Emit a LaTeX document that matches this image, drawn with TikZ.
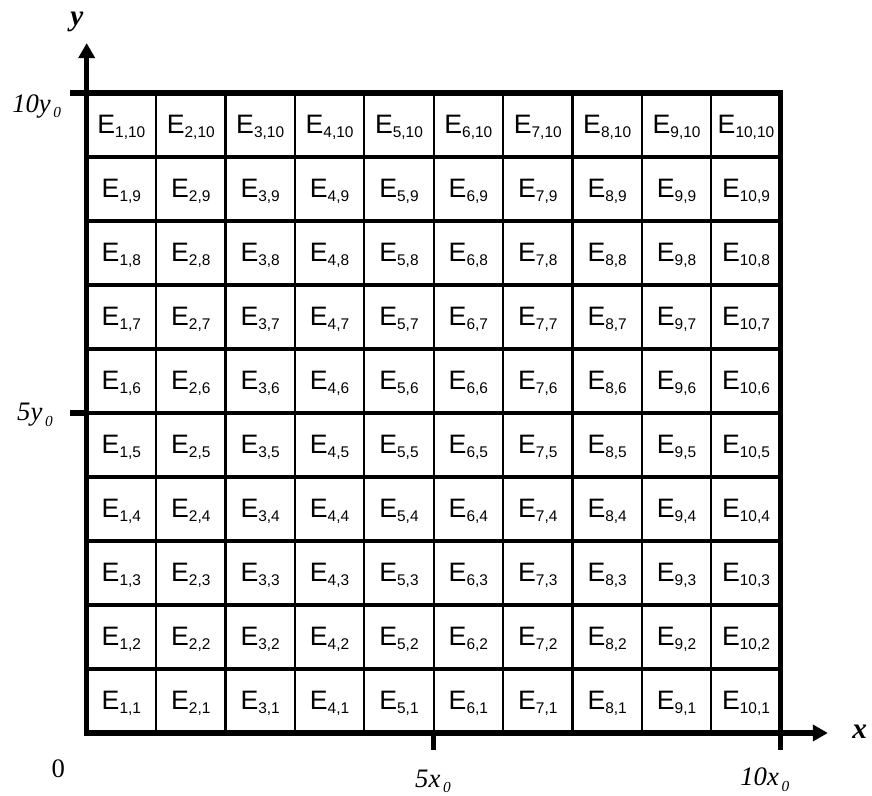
\documentclass[tikz,border=0pt]{standalone}
\usepackage{fontspec}
\setmainfont{Liberation Serif}
\newfontfamily\arialfont{Liberation Sans}
\usepackage{tikz}
\usetikzlibrary{arrows.meta}

\newcommand{\esub}[1]{\raisebox{-3.2pt}{\fontsize{11.6}{12}\selectfont #1}}
\newcommand{\ticksub}[1]{\kern2pt\raisebox{-3.8pt}{\fontsize{11.5}{12}\selectfont #1}}

\begin{document}
\begin{tikzpicture}[x=52.05pt,y=48pt,
  thin col/.style={line width=1.7pt},
  thin row/.style={line width=2.4pt},
  frame/.style={line width=4.2pt},
  axis tip/.style={-{Triangle[length=11.3pt,width=12pt]}},
  cell/.style={inner sep=0pt,yshift=-1.5pt,font=\arialfont\fontsize{20}{24}\selectfont},
  axis label/.style={inner sep=0pt,font=\fontsize{22}{24}\selectfont\bfseries\itshape},
  tick label/.style={inner sep=0pt,anchor=base west,font=\fontsize{20}{24}\selectfont\itshape}]
\useasboundingbox (-1.249,-0.984) rectangle (11.316,11.453);

% inner grid
\foreach \k in {1,...,9} {
  \draw[thin col] (\k,0)--(\k,10);
  \draw[thin row] (0,\k)--(10,\k);
}
\draw[line width=3pt] (0,5)--(10,5);

% frame and axes
\coordinate (o) at (0,0);
\coordinate (xtip) at (10.68,0);
\coordinate (ytip) at (0,10.78);
\draw[frame] (-0.24,10)--(10,10)--(10,-0.27);
\draw[frame] (5,0)--(5,-0.27);
\draw[frame] (-0.24,5)--(0,5);
\draw[frame,axis tip] (o)--(ytip);
\draw[frame,axis tip,shorten <=-2.1pt] (o)--(xtip);

% cell labels
\foreach \i in {1,...,10}
  \foreach \j in {1,...,10}
    \node[cell] (e-\i-\j) at (\i-0.5,\j-0.5) {E\esub{\i,\j}};

% axis labels
\node[axis label] (ylab) at (-0.14,11.11) {y};
\node[axis label] (xlab) at (11.14,0.02) {x};
\node[tick label] (y10) at (-1.076,9.69) {10y\ticksub{0}};
\node[tick label] (y5) at (-1.005,4.875) {5y\ticksub{0}};
\node[tick label] (x5) at (4.73,-0.844) {5x\ticksub{0}};
\node[tick label] (x10) at (9.415,-0.828) {10x\ticksub{0}};
\node[inner sep=0pt,anchor=base,font=\fontsize{20}{24}\selectfont] (zero) at (-0.41,-0.69) {0};
\end{tikzpicture}
\end{document}
